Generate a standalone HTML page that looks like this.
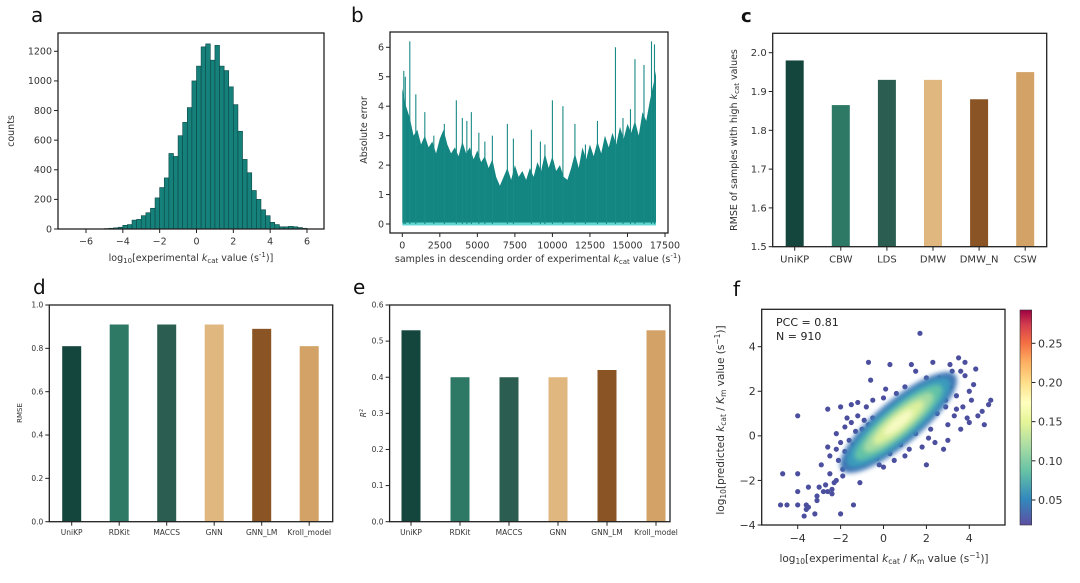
<!DOCTYPE html>
<html><head><meta charset="utf-8"><style>
body{margin:0;background:#fff;width:1080px;height:583px;overflow:hidden}
svg{display:block;font-family:"DejaVu Sans","Liberation Sans",sans-serif}
</style></head><body>
<svg id="fig" width="1080" height="583" viewBox="0 0 1080 583" xmlns="http://www.w3.org/2000/svg">
<defs>
<linearGradient id="cbar" x1="0" y1="1" x2="0" y2="0">
<stop offset="0" stop-color="#5e4fa2"/><stop offset="0.12" stop-color="#3288bd"/><stop offset="0.25" stop-color="#66c2a5"/><stop offset="0.37" stop-color="#abdda4"/><stop offset="0.48" stop-color="#e6f598"/><stop offset="0.57" stop-color="#ffffbf"/><stop offset="0.66" stop-color="#fee08b"/><stop offset="0.76" stop-color="#fdae61"/><stop offset="0.85" stop-color="#f46d43"/><stop offset="0.93" stop-color="#d53e4f"/><stop offset="1" stop-color="#9e0142"/>
</linearGradient>
<filter id="blur" x="-20%" y="-50%" width="140%" height="200%"><feGaussianBlur stdDeviation="2.5"/></filter>
</defs>
</svg>
<script>
// ---- data ----
const histStart=-5, histBin=0.25;
const histCounts=[3,5,8,12,25,30,60,65,90,110,140,210,280,345,510,490,630,720,820,1000,1100,1230,1250,1140,1240,1100,1070,960,840,660,470,380,260,200,130,90,45,30,15,15,18,15,10,5];
const histTicksX=[-6,-4,-2,0,2,4,6];
const histTicksY=[0,200,400,600,800,1000,1200];
const errEnvX=[0,250,500,750,1000,1250,1500,1750,2000,2250,2500,2750,3000,3250,3500,3750,4000,4250,4500,4750,5000,5250,5500,5750,6000,6250,6500,6750,7000,7250,7500,7750,8000,8250,8500,8750,9000,9250,9500,9750,10000,10250,10500,10750,11000,11250,11500,11750,12000,12250,12500,12750,13000,13250,13500,13750,14000,14250,14500,14750,15000,15250,15500,15750,16000,16250,16500,16750,16900];
const errEnvY=[4.6,4.0,3.6,3.0,3.2,2.7,3.0,2.6,2.8,2.4,2.9,3.2,2.7,2.4,2.6,2.3,2.8,2.4,2.6,2.2,2.5,2.1,2.3,1.9,2.2,1.6,1.3,1.6,1.9,1.5,2.0,1.6,1.8,1.5,1.9,1.6,2.1,1.8,2.4,1.9,2.3,1.8,2.0,1.6,1.5,1.9,2.4,1.9,2.6,2.2,2.7,2.3,2.8,2.4,3.0,2.6,3.1,2.7,3.3,2.9,3.4,3.1,3.5,3.0,3.8,3.5,4.2,4.8,5.2];
const spikeX=[100,200,500,900,1500,2100,2800,3600,4000,4300,4600,5100,5500,6000,7000,7400,8600,9200,9500,10000,10700,11500,12200,13000,13600,14200,14700,15200,15500,16100,16600,16800];
const spikeY=[5.2,5.0,6.2,4.4,3.8,3.0,3.4,4.2,3.6,3.5,3.8,3.1,2.8,3.0,3.4,2.9,3.2,2.8,2.7,4.2,4.0,3.4,2.7,3.5,2.8,6.0,3.6,3.9,5.6,5.4,6.2,6.1];
const errTicksX=[0,2500,5000,7500,10000,12500,15000,17500];
const errTicksY=[0,1,2,3,4,5,6];
const cCats=["UniKP","CBW","LDS","DMW","DMW_N","CSW"];
const cVals=[1.98,1.865,1.93,1.93,1.88,1.95];
const cTicks=[1.5,1.6,1.7,1.8,1.9,2.0];
const modelCats=["UniKP","RDKit","MACCS","GNN","GNN_LM","Kroll_model"];
const rmseVals=[0.81,0.91,0.91,0.91,0.89,0.81];
const rmseTicks=[0,0.2,0.4,0.6,0.8,1.0];
const r2Vals=[0.53,0.40,0.40,0.40,0.42,0.53];
const r2Ticks=[0,0.1,0.2,0.3,0.4,0.5,0.6];
const barColors=["#15463e","#2e7866","#2b5e50","#dfb77f","#8a5424","#d2a266"];
const scatX=[-4.8,-4.5,-4.7,-4.0,-4.0,-4.0,-4.0,-3.7,-3.6,-3.6,-3.5,-3.5,-3.2,-3.1,-3.1,-3.0,-2.9,-2.8,-2.7,-2.6,-2.6,-2.5,-2.5,-2.4,-2.3,-2.2,-2.2,-2.1,-2.0,-2.0,-2.0,-1.9,-1.8,-1.8,-1.7,-1.6,-1.5,-1.5,-1.4,-1.4,-1.3,-1.2,-1.2,-1.1,-1.0,-0.9,-0.8,-0.7,-0.6,-0.5,-0.3,-0.2,0,0.1,0.3,0.3,0.5,0.6,0.8,1.0,1.2,1.3,1.5,1.7,1.8,2.0,2.1,2.3,2.4,2.6,2.8,2.9,3.0,3.1,3.3,3.4,3.5,3.6,3.7,3.8,3.9,4.0,4.1,4.2,4.3,4.4,4.6,4.7,4.9,5.0,2.5,3.0,2.2,1.5,3.2,2.0,0.0,-0.5,1.0,3.8,4.0,-1.6,-1.9,-1.3,-2.4,-2.6,-1.0,-0.7,2.7,3.1,3.6,2.9,3.4,-1.7,-2.2];
const scatY=[-3.1,-3.1,-1.7,-1.7,-2.5,-3.1,0.9,-3.6,-3.1,-3.3,-2.3,-3.2,-3.5,-2.9,-2.7,-2.3,-1.3,-2.5,-2.2,1.2,-0.5,-0.9,-1.7,-2.4,-2.1,-2.0,0.1,-1.1,1.3,-3.5,-0.3,-1.5,0.4,-0.7,-1.2,-0.2,1.4,0.6,-3.1,-0.4,0.2,1.5,0.9,-2.1,-0.8,0.7,1.3,3.3,2.5,1.6,-1.0,-1.3,-1.4,2.1,3.2,-0.8,-1.1,1.9,-0.4,-0.9,-0.6,3.2,2.9,4.6,-0.5,-1.3,-0.1,3.3,-0.3,2.6,-0.6,1.3,0.5,2.2,0.9,1.8,3.5,0.3,1.3,2.7,0.8,0.6,1.6,2.3,3.0,0.9,1.1,0.5,1.4,1.6,1.0,-0.2,0.3,0.1,2.9,2.6,1.7,0.8,2.2,3.3,2.0,-1.0,-1.8,-0.5,-2.6,-2.5,0.3,0.5,1.8,3.2,2.9,1.6,1.2,0.8,-0.6];
const fTicks=[-4,-2,0,2,4];
const cbTicks=[0.05,0.10,0.15,0.20,0.25];

const NS="http://www.w3.org/2000/svg", svg=document.getElementById('fig');
function el(t,a,p){const e=document.createElementNS(NS,t);for(const k in a)e.setAttribute(k,a[k]);(p||svg).appendChild(e);return e;}
function txt(s,a,p){const e=el('text',a,p);e.textContent=s;return e;}
function lin(d0,d1,r0,r1){return v=>r0+(v-d0)*(r1-r0)/(d1-d0);}
function frame(g,x0,y0,x1,y1){el('rect',{x:x0,y:y0,width:x1-x0,height:y1-y0,fill:'none',stroke:'#222','stroke-width':1.3},g);}
function yTicks(g,ticks,sy,x0,fs,fmt){ticks.forEach(t=>{const y=sy(t);el('line',{x1:x0-4,y1:y,x2:x0,y2:y,stroke:'#222'},g);const l=txt(fmt(t),{x:x0-6,y:y+fs*0.35,'font-size':fs,'text-anchor':'end',fill:'#333'},g);});}
function xTicks(g,ticks,sx,y0,fs,fmt){ticks.forEach(t=>{const x=sx(t);el('line',{x1:x,y1:y0,x2:x,y2:y0+4,stroke:'#222'},g);const l=txt(fmt(t),{x:x,y:y0+6+fs,'font-size':fs,'text-anchor':'middle',fill:'#333'},g);});}
function mk(name){const g=el('g',{});return g;}
const neg=t=>(t<0?'\u2212'+Math.abs(t):''+t);

// ---- panel a ----
(function(){const g=mk('panel-a-histogram');
const L=58,R=324,T=33,B=229;const sx=lin(-6,6,86,307), sy=lin(0,1200,229,51.3);
histCounts.forEach((c,i)=>{const x0=sx(histStart+i*histBin),x1=sx(histStart+(i+1)*histBin);const r=el('rect',{x:x0,y:sy(c),width:x1-x0,height:B-sy(c),fill:'#16807a',stroke:'#0b4744','stroke-width':0.6},g);});
frame(g,L,T,R,B);yTicks(g,histTicksY,sy,L,9.5,t=>''+t);xTicks(g,histTicksX,sx,B,9.5,neg);
txt('counts',{x:14,y:131,'font-size':9.5,'text-anchor':'middle',transform:'rotate(-90 14 131)',fill:'#333'},g);
const xt=txt('',{x:191,y:261,'font-size':9.5,'text-anchor':'middle',fill:'#333'},g);xt.innerHTML='log<tspan font-size="7" dy="2">10</tspan><tspan dy="-2">[experimental </tspan><tspan font-style="italic">k</tspan><tspan font-size="7" dy="2">cat</tspan><tspan dy="-2"> value (s</tspan><tspan font-size="7" dy="-4">-1</tspan><tspan dy="4">)]</tspan>';
txt('a',{x:31,y:22,'font-size':20,fill:'#111'},g);})();

// ---- panel b ----
(function(){const g=mk('panel-b-absolute-error');
const L=390,R=668,T=32,B=233;const sx=lin(0,17500,402.3,665), sy=lin(0,6,224,47.3);
let d='M'+sx(errEnvX[0])+' '+sy(0.03);errEnvX.forEach((x,i)=>{d+=' L'+sx(x)+' '+sy(errEnvY[i]);});d+=' L'+sx(errEnvX[errEnvX.length-1])+' '+sy(0.03)+'Z';
el('path',{d:d,fill:'#138682'},g);
el('rect',{x:sx(0),y:sy(0.05),width:sx(16900)-sx(0),height:sy(-0.05)-sy(0.05),fill:'#5fd6d0'},g);
spikeX.forEach((x,i)=>{const l=el('line',{x1:sx(x),y1:sy(0),x2:sx(x),y2:sy(spikeY[i]),stroke:'#1a8a86','stroke-width':1.1},g);});
frame(g,L,T,R,B);yTicks(g,errTicksY,sy,L,9.5,t=>''+t);xTicks(g,errTicksX,sx,B,9.5,t=>''+t);
txt('Absolute error',{x:367,y:130,'font-size':9.5,'text-anchor':'middle',transform:'rotate(-90 367 130)',fill:'#333'},g);
const xt=txt('',{x:538,y:262,'font-size':9.5,'text-anchor':'middle',fill:'#333'},g);xt.innerHTML='samples in descending order of experimental <tspan font-style="italic">k</tspan><tspan font-size="7" dy="2">cat</tspan><tspan dy="-2"> value (s</tspan><tspan font-size="7" dy="-4">-1</tspan><tspan dy="4">)</tspan>';
txt('b',{x:351,y:22,'font-size':20,fill:'#111'},g);})();

// ---- bar helper ----
function bars(name,cats,vals,ticks,L,R,T,B,c0,dx,bw,ymin,ymax,fs,tfs,fmt,yTop){const g=mk(name);const sy=lin(ymin,ymax,B,yTop===undefined?T:yTop);
vals.forEach((v,i)=>{const cx=c0+i*dx;const r=el('rect',{x:cx-bw/2,y:sy(v),width:bw,height:B-sy(v),fill:barColors[i]},g);
el('line',{x1:cx,y1:B,x2:cx,y2:B+4,stroke:'#222'},g);const l=txt(cats[i],{x:cx,y:B+6+tfs,'font-size':tfs,'text-anchor':'middle',fill:'#333'},g);});
frame(g,L,T,R,B);yTicks(g,ticks,sy,L,fs,fmt);return g;}

// ---- panel c ----
(function(){const g=bars('panel-c-rmse-high-kcat',cCats,cVals,cTicks,772.7,1046.7,33.3,246.7,794.7,46.1,18,1.5,2.0,10,10,t=>t.toFixed(1),52.7);
const yt=txt('',{x:737,y:140,'font-size':9.5,'text-anchor':'middle',transform:'rotate(-90 737 140)',fill:'#333'},g);yt.innerHTML='RMSE of samples with high <tspan font-style="italic">k</tspan><tspan font-size="7" dy="2">cat</tspan><tspan dy="-2"> values</tspan>';
txt('c',{x:741,y:22,'font-size':18,'font-weight':'bold',fill:'#111'},g);

// ---- panel d ----
const gd=bars('panel-d-rmse',modelCats,rmseVals,rmseTicks,49.3,332.7,305,521.7,71.7,47.5,19,0,1.0,7.5,7.5,t=>t.toFixed(1));
txt('RMSE',{x:22,y:413,'font-size':7,'text-anchor':'middle',transform:'rotate(-90 22 413)',fill:'#333'},gd);
txt('d',{x:33,y:294,'font-size':20,fill:'#111'},gd);

// ---- panel e ----
const ge=bars('panel-e-r2',modelCats,r2Vals,r2Ticks,389.6,670,305,521.7,411,49,19,0,0.6,7.5,7.5,t=>t.toFixed(1));
const et=txt('',{x:366,y:413,'font-size':7.5,'text-anchor':'middle',transform:'rotate(-90 366 413)',fill:'#333'},ge);et.innerHTML='<tspan font-style="italic">R</tspan><tspan font-size="5" dy="-3">2</tspan>';
txt('e',{x:353,y:294,'font-size':20,fill:'#111'},ge);

// ---- panel f ----
const gf=mk('panel-f-scatter');const L2=761.7,R2=1005,T2=309.3,B2=525;const sx=lin(-4,4,797.7,969.3),sy2=lin(-4,4,525,346.7);
scatX.forEach((x,i)=>{const c=el('circle',{cx:sx(x),cy:sy2(scatY[i]),r:2.6,fill:'#4b4f9e'},gf);});
const cx=sx(0.7),cy=sy2(0.6);
const core=el('g',{transform:'rotate(-40 '+cx+' '+cy+')',filter:'url(#blur)'},gf);
[[74,22,'#3d74b5'],[66,18,'#3a9bbb'],[56,14,'#62c3a6'],[44,11,'#a6dca3'],[32,8,'#dcf19c'],[18,5,'#f6fac2']].forEach(e=>el('ellipse',{cx:cx,cy:cy,rx:e[0],ry:e[1],fill:e[2]},core));
frame(gf,L2,T2,R2,B2);yTicks(gf,fTicks,sy2,L2,11,neg);xTicks(gf,fTicks,sx,B2,11,neg);
txt('PCC = 0.81',{x:776,y:326,'font-size':11,fill:'#222'},gf);
txt('N = 910',{x:776,y:340,'font-size':11,fill:'#222'},gf);
const fx=txt('',{x:884,y:562,'font-size':10.5,'text-anchor':'middle',fill:'#333'},gf);fx.innerHTML='log<tspan font-size="7.5" dy="2">10</tspan><tspan dy="-2">[experimental </tspan><tspan font-style="italic">k</tspan><tspan font-size="7.5" dy="2">cat</tspan><tspan dy="-2"> / </tspan><tspan font-style="italic">K</tspan><tspan font-size="7.5" dy="2">m</tspan><tspan dy="-2"> value (s</tspan><tspan font-size="7.5" dy="-4">−1</tspan><tspan dy="4">)]</tspan>';
const fy=txt('',{x:724,y:420,'font-size':10.5,'text-anchor':'middle',transform:'rotate(-90 724 420)',fill:'#333'},gf);fy.innerHTML='log<tspan font-size="7.5" dy="2">10</tspan><tspan dy="-2">[predicted </tspan><tspan font-style="italic">k</tspan><tspan font-size="7.5" dy="2">cat</tspan><tspan dy="-2"> / </tspan><tspan font-style="italic">K</tspan><tspan font-size="7.5" dy="2">m</tspan><tspan dy="-2"> value (s</tspan><tspan font-size="7.5" dy="-4">−1</tspan><tspan dy="4">)]</tspan>';
txt('f',{x:733,y:296,'font-size':20,fill:'#111'},gf);
const cb=el('rect',{x:1020,y:310,width:11.7,height:215,fill:'url(#cbar)',stroke:'#333','stroke-width':0.6},gf);
const sc=lin(0.05,0.25,500,343.3);cbTicks.forEach(t=>{const y=sc(t);el('line',{x1:1031.7,y1:y,x2:1035.5,y2:y,stroke:'#222'},gf);const l=txt(t.toFixed(2),{x:1038,y:y+4,'font-size':11,fill:'#333'},gf);});
})();
</script>
</body></html>
